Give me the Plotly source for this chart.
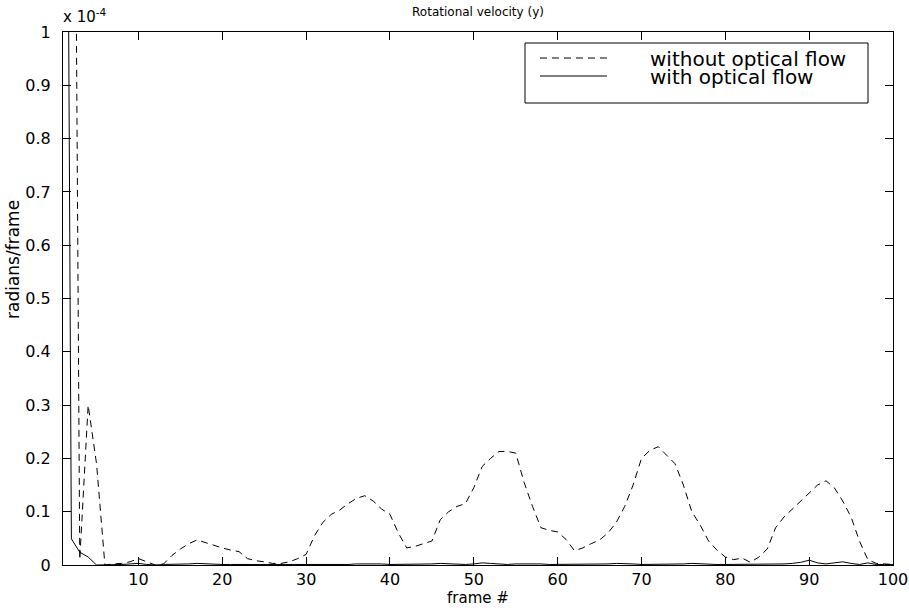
import plotly.graph_objects as go

# frame numbers
frames = list(range(1, 101))

# values in units of 1e-4 radians/frame
without_flow = [
    3.0, 2.5, 0.01, 0.30, 0.19, 0.0, 0.002, 0.003, 0.006, 0.012,
    0.006, 0.0, 0.002, 0.018, 0.03, 0.04, 0.047, 0.042, 0.036, 0.032,
    0.028, 0.025, 0.012, 0.008, 0.006, 0.003, 0.003, 0.006, 0.012, 0.02,
    0.055, 0.08, 0.095, 0.103, 0.115, 0.125, 0.13, 0.12, 0.105, 0.095,
    0.06, 0.032, 0.035, 0.04, 0.045, 0.085, 0.1, 0.11, 0.115, 0.145,
    0.185, 0.2, 0.213, 0.213, 0.21, 0.155, 0.11, 0.07, 0.065, 0.062,
    0.048, 0.027, 0.032, 0.04, 0.047, 0.06, 0.08, 0.11, 0.15, 0.2,
    0.215, 0.222, 0.205, 0.19, 0.15, 0.1, 0.075, 0.045, 0.028, 0.015,
    0.01, 0.013, 0.005, 0.015, 0.03, 0.07, 0.09, 0.105, 0.12, 0.135,
    0.15, 0.158, 0.145, 0.12, 0.09, 0.045, 0.01, 0.003, 0.002, 0.001,
]

with_flow = [
    3.0, 0.049, 0.024, 0.015, 0.0, 0.0, 0.001, 0.001, 0.002, 0.003,
    0.001, 0.0, 0.001, 0.001, 0.001, 0.002, 0.003, 0.002, 0.001, 0.001,
    0.001, 0.001, 0.001, 0.0, 0.0, 0.001, 0.001, 0.001, 0.001, 0.001,
    0.001, 0.001, 0.001, 0.001, 0.001, 0.002, 0.002, 0.003, 0.002, 0.001,
    0.001, 0.001, 0.001, 0.001, 0.002, 0.003, 0.002, 0.001, 0.001, 0.002,
    0.004, 0.003, 0.002, 0.001, 0.002, 0.002, 0.003, 0.002, 0.001, 0.001,
    0.001, 0.001, 0.001, 0.001, 0.001, 0.002, 0.003, 0.003, 0.002, 0.001,
    0.001, 0.001, 0.001, 0.001, 0.002, 0.003, 0.002, 0.001, 0.001, 0.001,
    0.001, 0.001, 0.001, 0.001, 0.001, 0.001, 0.002, 0.003, 0.005, 0.009,
    0.004, 0.002, 0.004, 0.006, 0.003, 0.001, 0.004, 0.001, 0.001, 0.001,
]

x_ticks = [10, 20, 30, 40, 50, 60, 70, 80, 90, 100]
y_ticks = [0, 0.1, 0.2, 0.3, 0.4, 0.5, 0.6, 0.7, 0.8, 0.9, 1]
y_tick_text = ["0", "0.1", "0.2", "0.3", "0.4", "0.5", "0.6", "0.7", "0.8", "0.9", "1"]

FONT = "DejaVu Sans, Liberation Sans, Arial, sans-serif"
DASH = "7px,5px"

fig = go.Figure()
fig.add_trace(go.Scatter(x=frames, y=without_flow, mode="lines",
                         name="without optical flow",
                         line=dict(color="black", width=1, dash=DASH),
                         showlegend=False))
fig.add_trace(go.Scatter(x=frames, y=with_flow, mode="lines",
                         name="with optical flow",
                         line=dict(color="black", width=1),
                         showlegend=False))

W, H = 909, 610
L, R, T, B = 63, 16, 32, 45
pw, ph = W - L - R, H - T - B


def px(xp):
    """page x pixel -> paper x"""
    return (xp - L) / pw


def py(yp):
    """page y pixel -> paper y"""
    return (H - B - yp) / ph


# legend box (MATLAB style)
shapes = [
    dict(type="rect", xref="paper", yref="paper", x0=px(525), x1=px(868),
         y0=py(103), y1=py(43), line=dict(color="black", width=1),
         fillcolor="white", layer="above"),
    dict(type="line", xref="paper", yref="paper", x0=px(540), x1=px(607),
         y0=py(58), y1=py(58), line=dict(color="black", width=1, dash=DASH),
         layer="above"),
    dict(type="line", xref="paper", yref="paper", x0=px(540), x1=px(607),
         y0=py(76), y1=py(76), line=dict(color="black", width=1),
         layer="above"),
]

annotations = [
    dict(text="without optical flow", xref="paper", yref="paper",
         x=px(648), y=py(59), xanchor="left", yanchor="middle",
         showarrow=False, font=dict(size=20, color="black", family=FONT)),
    dict(text="with optical flow", xref="paper", yref="paper",
         x=px(648), y=py(77), xanchor="left", yanchor="middle",
         showarrow=False, font=dict(size=20, color="black", family=FONT)),
    dict(text="x 10<sup>-4</sup>", xref="paper", yref="paper",
         x=px(61), y=py(28), xanchor="left", yanchor="bottom",
         showarrow=False, font=dict(size=15, color="black", family=FONT)),
    dict(text="radians/frame", xref="paper", yref="paper",
         x=px(13), y=py(260), xanchor="center", yanchor="middle",
         textangle=-90, showarrow=False,
         font=dict(size=17, color="black", family=FONT)),
]

fig.update_layout(
    width=W, height=H,
    margin=dict(l=L, r=R, t=T, b=B),
    paper_bgcolor="white", plot_bgcolor="white",
    font=dict(family=FONT, color="black", size=15),
    title=dict(text="Rotational velocity (y)", x=0.5, xref="paper",
               y=1 - 12 / H, yanchor="middle",
               font=dict(size=12, family=FONT, color="black")),
    shapes=shapes, annotations=annotations, showlegend=False,
)

fig.update_xaxes(range=[1, 100], tickvals=x_ticks, ticks="inside", ticklen=8,
                 tickcolor="black", showline=True, linecolor="black", linewidth=1,
                 mirror="ticks", showgrid=False, zeroline=False, automargin=False,
                 tickfont=dict(size=16),
                 title=dict(text="frame #", font=dict(size=15), standoff=0))
fig.update_yaxes(range=[0, 1], tickvals=y_ticks, ticktext=y_tick_text,
                 ticks="inside", ticklen=8, tickcolor="black", showline=True,
                 linecolor="black", linewidth=1, mirror="ticks", showgrid=False,
                 zeroline=False, automargin=False, tickfont=dict(size=16),
                 ticklabelstandoff=8)

# remove the default 8px page margin so the figure fills the window exactly
fig.write_html("out.html",
               config={"displayModeBar": False},
               post_script="document.body.style.margin='0';"
                           "document.body.style.overflow='hidden';")
